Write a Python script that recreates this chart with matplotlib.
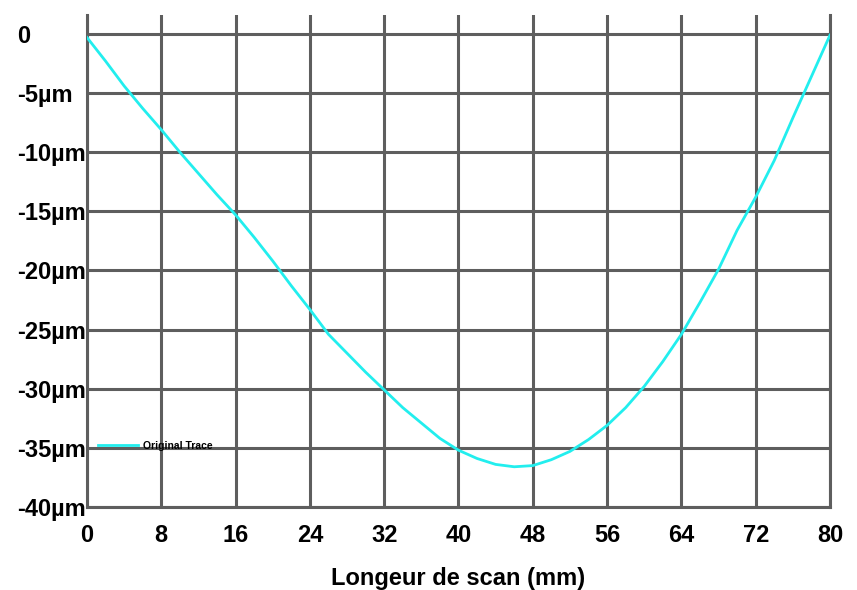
import matplotlib
matplotlib.use('Agg')
import matplotlib.pyplot as plt

plt.rcParams['font.family'] = ['Liberation Sans Narrow', 'Liberation Sans', 'DejaVu Sans']

TRACE_COLOR = '#22eeee'
GRID_COLOR = '#5e5e5e'

# scan position (mm) and profile depth (um)
scan_mm = [0, 2, 4, 6, 8, 10, 12, 14, 16, 18, 20, 22, 24, 26, 28, 30,
           32, 34, 36, 38, 40, 42, 44, 46, 48, 50, 52, 54, 56, 58, 60,
           62, 64, 66, 68, 70, 72, 74, 76, 78, 80]
depth_um = [-0.3, -2.3, -4.4, -6.3, -8.1, -10.0, -11.8, -13.6, -15.3,
            -17.2, -19.2, -21.3, -23.3, -25.4, -27.0, -28.6, -30.1, -31.6,
            -32.9, -34.2, -35.2, -35.9, -36.4, -36.6, -36.5, -36.0, -35.3,
            -34.3, -33.1, -31.6, -29.8, -27.7, -25.4, -22.7, -19.9, -16.6,
            -13.8, -10.7, -7.1, -3.6, -0.1]

x_ticks = [0, 8, 16, 24, 32, 40, 48, 56, 64, 72, 80]
y_ticks = [0, -5, -10, -15, -20, -25, -30, -35, -40]
y_labels = ['0', '-5µm', '-10µm', '-15µm', '-20µm', '-25µm', '-30µm',
            '-35µm', '-40µm']

fig = plt.figure(figsize=(8.57, 5.90), dpi=100)
ax = fig.add_axes((0.1015, 0.1407, 0.867, 0.8339))

ax.plot(scan_mm, depth_um, color=TRACE_COLOR, lw=2.0, label='Original Trace',
        zorder=3)

ax.set_xlim(0, 80)
ax.set_ylim(-40, 1.6)
ax.set_xticks(x_ticks)
ax.set_yticks(y_ticks)
ax.set_xticklabels([str(t) for t in x_ticks], fontsize=17, fontweight='bold')
ax.set_yticklabels(y_labels, fontsize=17, fontweight='bold', ha='left')
ax.tick_params(axis='x', length=0, pad=12)
ax.tick_params(axis='y', length=0, pad=50)

ax.grid(True, color=GRID_COLOR, lw=2.2)
ax.set_axisbelow(True)
for side in ['left', 'right', 'bottom']:
    ax.spines[side].set_color(GRID_COLOR)
    ax.spines[side].set_linewidth(2.2)
ax.spines['top'].set_visible(False)

ax.set_xlabel('Longeur de scan (mm)', fontsize=17, fontweight='bold',
              labelpad=15)

ax.legend(loc='center left', bbox_to_anchor=(0.0148, 0.124), frameon=False,
          prop={'size': 7.5, 'weight': 'bold'}, handlelength=3.85,
          handletextpad=0.5, borderpad=0, borderaxespad=0)

fig.savefig('out.png', dpi=100)
